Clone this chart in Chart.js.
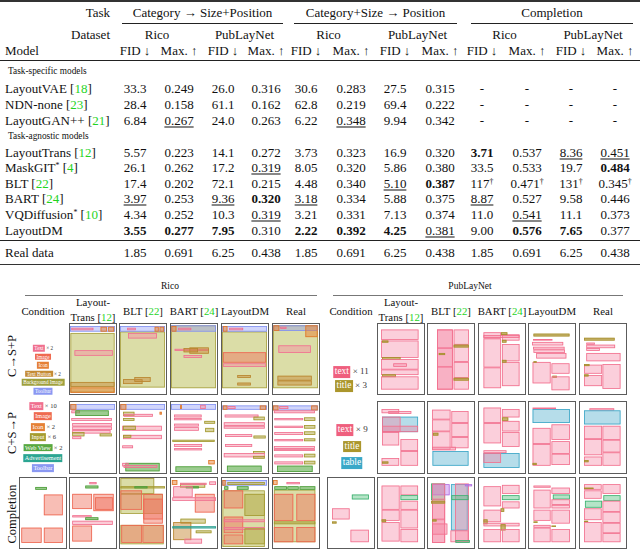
<!DOCTYPE html>
<html>
<head>
<meta charset="utf-8">
<script src="https://cdn.jsdelivr.net/npm/chart.js@4.4.0/dist/chart.umd.min.js"></script>
<style>
body { margin: 0; background: #fff; }
#page { position: relative; width: 640px; height: 550px; overflow: hidden; font-family: 'Liberation Serif', 'Times New Roman', serif; color: #111; }
.t { position: absolute; white-space: nowrap; line-height: 1; }
.rule { position: absolute; background: #222; }
.cite { color: #1fd41f; }
.u { text-decoration: underline; text-decoration-thickness: 1px; text-underline-offset: 2px; }
sup { font-size: 60%; line-height: 0; vertical-align: 0.45em; }
.frame { position: absolute; box-sizing: border-box; border: 1.5px solid #5c5c5c; background: #fff; overflow: hidden; }
.frame canvas { display: block; }
.tag { display: inline-block; color: #fff; line-height: 1.25; padding: 0 1.5px; }
</style>
</head>
<body>
<div id="page"></div>
<script>
// ---- table data ----
const models = ['LayoutVAE', 'NDN-none', 'LayoutGAN++', 'LayoutTrans', 'MaskGIT*', 'BLT', 'BART', 'VQDiffusion*', 'LayoutDM'];
const modelRefs = ['18', '23', '21', '12', '4', '22', '24', '10', ''];
// ** = bold, __ = underline
const catToSizePos = [
  ['33.3', '0.249', '26.0', '0.316'],
  ['28.4', '0.158', '61.1', '0.162'],
  ['6.84', '__0.267', '24.0', '0.263'],
  ['5.57', '0.223', '14.1', '0.272'],
  ['26.1', '0.262', '17.2', '__0.319'],
  ['17.4', '0.202', '72.1', '0.215'],
  ['__3.97', '0.253', '__9.36', '**0.320'],
  ['4.34', '0.252', '10.3', '__0.319'],
  ['**3.55', '**0.277', '**7.95', '0.310']
];
const catSizeToPos = [
  ['30.6', '0.283', '27.5', '0.315'],
  ['62.8', '0.219', '69.4', '0.222'],
  ['6.22', '__0.348', '9.94', '0.342'],
  ['3.73', '0.323', '16.9', '0.320'],
  ['8.05', '0.320', '5.86', '0.380'],
  ['4.48', '0.340', '__5.10', '**0.387'],
  ['__3.18', '0.334', '5.88', '0.375'],
  ['3.21', '0.331', '7.13', '0.374'],
  ['**2.22', '**0.392', '**4.25', '__0.381']
];
const completion = [
  ['-', '-', '-', '-'],
  ['-', '-', '-', '-'],
  ['-', '-', '-', '-'],
  ['**3.71', '0.537', '__8.36', '__0.451'],
  ['33.5', '0.533', '19.7', '**0.484'],
  ['117†', '0.471†', '131†', '0.345†'],
  ['__8.87', '0.527', '9.58', '0.446'],
  ['11.0', '__0.541', '11.1', '0.373'],
  ['9.00', '**0.576', '**7.65', '0.377']
];
const realData = ['1.85', '0.691', '6.25', '0.438'];
const taskNames = ['Category \u2192 Size+Position', 'Category+Size \u2192 Position', 'Completion'];
const datasetNames = ['Rico', 'PubLayNet'];

// ---- layout figure data ----
const figColumns = ['Layout-|Trans [12]', 'BLT [22]', 'BART [24]', 'LayoutDM', 'Real'];
const rowLabels = ['C\u2192S+P', 'C+S\u2192P', 'Completion'];
const ricoCondTags1 = [['Text', 'text', '× 2'], ['Image', 'image', ''], ['Icon', 'icon', ''], ['Text Button', 'button', '× 2'], ['Background Image', 'bg', ''], ['Toolbar', 'toolbar', '']];
const ricoCondTags2 = [['Text', 'text', '× 10'], ['Image', 'image', ''], ['Icon', 'icon', '× 2'], ['Input', 'input', '× 6'], ['Web View', 'web', '× 2'], ['Advertisement', 'ad', ''], ['Toolbar', 'toolbar', '']];
const pubCondTags1 = [['text', 'text', '× 11'], ['title', 'title', '× 3']];
const pubCondTags2 = [['text', 'text', '× 9'], ['title', 'title', ''], ['table', 'table', '']];

// boxes: [category, x0, y0, x1, y1] in page-relative units (0..1)
const ricoCSP = [
  [['toolbar',0,0.03,1,0.11],['text',0.03,0.055,0.52,0.09],['icon',0.68,0.04,0.82,0.11],['icon',0.85,0.04,0.98,0.11],['bg',0.01,0.13,0.99,0.99],['text',0.1,0.38,0.95,0.46],['button',0.01,0.84,0.99,0.91],['icon',0.01,0.92,0.99,1.0]],
  [['toolbar',0,0.03,1,0.11],['text',0.16,0.055,0.35,0.09],['icon',0.77,0.04,0.86,0.11],['icon',0.88,0.04,0.98,0.11],['bg',0,0.11,1,0.92],['text',0.18,0.13,0.82,0.21],['button',0.07,0.8,0.5,0.87],['button',0.32,0.77,0.68,0.84]],
  [['bg',0,0.02,1,0.93],['toolbar',0,0.02,1,0.11],['icon',0.01,0.03,0.12,0.11],['text',0.16,0.055,0.45,0.09],['text',0.08,0.36,0.84,0.39],['button',0.41,0.34,0.84,0.43],['button',0.28,0.35,0.6,0.41],['text',0.28,0.45,0.69,0.49]],
  [['toolbar',0,0.03,1,0.11],['icon',0.02,0.03,0.12,0.11],['text',0.16,0.055,0.47,0.09],['bg',0,0.11,1,0.93],['image',0.02,0.41,0.98,0.56],['text',0.02,0.57,0.98,0.62],['button',0.34,0.74,0.64,0.78],['button',0.34,0.85,0.64,0.89]],
  [['bg',0,0.02,1,0.93],['toolbar',0,0.02,1,0.1],['icon',0.01,0.02,0.14,0.1],['text',0.16,0.04,0.3,0.07],['icon',0.72,0.02,0.99,0.19],['text',0.12,0.31,0.84,0.42],['button',0.1,0.75,0.86,0.82],['button',0.1,0.82,0.86,0.89]]
];
const ricoCSP2 = [
  [['toolbar',0,0.03,1,0.11],['icon',0.01,0.03,0.14,0.11],['text',0.03,0.12,0.22,0.16],['web',0.12,0.12,0.86,0.2],['text',0.03,0.23,0.93,0.27],['text',0.05,0.3,0.93,0.35],['text',0.05,0.35,0.93,0.4],['text',0.05,0.4,0.9,0.45],['input',0.05,0.43,0.32,0.49],['input',0.66,0.45,0.93,0.49],['text',0.05,0.49,0.25,0.53]],
  [['toolbar',0,0.03,1,0.11],['icon',0.01,0.03,0.14,0.11],['input',0.07,0.14,0.32,0.2],['text',0.08,0.17,0.73,0.21],['input',0.07,0.23,0.32,0.27],['icon',0.88,0.14,0.93,0.18],['text',0.05,0.34,0.93,0.41],['input',0.07,0.34,0.35,0.4],['text',0.07,0.47,0.93,0.53],['input',0.07,0.47,0.25,0.51],['text',0.05,0.62,0.29,0.66],['web',0.12,0.87,0.88,0.99],['text',0.05,0.87,0.19,0.92],['text',0.08,0.9,0.83,0.94]],
  [['toolbar',0,0.03,1,0.11],['icon',0.2,0.04,0.24,0.1],['text',0.65,0.04,0.77,0.1],['text',0.07,0.18,0.68,0.22],['text',0.07,0.23,0.68,0.26],['input',0.74,0.27,0.98,0.31],['text',0.07,0.31,0.62,0.35],['text',0.07,0.36,0.62,0.41],['input',0.76,0.37,0.96,0.43],['input',0.03,0.54,0.97,0.57],['text',0.07,0.6,0.69,0.64],['text',0.07,0.66,0.69,0.69],['icon',0.83,0.83,0.97,0.89],['web',0.1,0.92,0.9,1.0]],
  [['toolbar',0,0.05,1,0.11],['icon',0.02,0.05,0.12,0.11],['icon',0.84,0.05,0.98,0.11],['text',0.12,0.06,0.3,0.1],['text',0.06,0.18,0.81,0.22],['input',0.7,0.21,0.95,0.26],['text',0.04,0.29,0.95,0.34],['text',0.04,0.34,0.95,0.38],['text',0.07,0.46,0.67,0.5],['input',0.7,0.48,0.97,0.52],['text',0.07,0.6,0.67,0.64],['input',0.69,0.7,0.95,0.74],['text',0.04,0.73,0.95,0.79],['input',0.69,0.77,0.95,0.81],['web',0.11,0.91,0.88,1.0]],
  [['toolbar',0,0.05,1,0.12],['icon',0,0.05,0.12,0.12],['icon',0.85,0.05,0.99,0.12],['text',0.14,0.06,0.34,0.1],['text',0.02,0.12,0.93,0.16],['text',0.03,0.23,0.67,0.26],['input',0.69,0.22,0.94,0.27],['text',0.03,0.34,0.67,0.37],['input',0.69,0.33,0.94,0.38],['text',0.03,0.43,0.67,0.47],['input',0.69,0.42,0.94,0.47],['text',0.03,0.53,0.67,0.56],['input',0.69,0.52,0.94,0.56],['text',0.02,0.63,0.93,0.67],['text',0.02,0.67,0.93,0.7],['text',0.03,0.75,0.67,0.79],['input',0.69,0.74,0.94,0.79],['text',0.03,0.85,0.67,0.89],['input',0.69,0.84,0.94,0.89],['web',0.09,0.91,0.88,1.0]]
];
const ricoComplCond = [['web',0.34,0.13,0.6,0.17],['image',0.53,0.24,0.95,0.54],['image',0.03,0.72,0.48,0.94],['image',0.53,0.72,0.95,0.94]];
const ricoCompl = [
  [['text',0.43,0.06,0.59,0.09],['web',0.34,0.11,0.63,0.15],['image',0.05,0.23,0.49,0.45],['image',0.52,0.23,0.97,0.48],['image',0.56,0.28,0.95,0.46],['text',0.05,0.54,0.48,0.57],['web',0.34,0.57,0.63,0.61],['text',0.05,0.62,0.95,0.68],['image',0.05,0.69,0.49,0.92]],
  [['bg',0.01,0.0,0.76,0.23],['bg',0.01,0.23,0.95,0.52],['bg',0.01,0.68,0.97,0.96],['input',0.01,0.12,1.0,0.15],['web',0.32,0.12,0.61,0.15],['image',0.01,0.18,0.49,0.46],['image',0.52,0.23,0.95,0.66],['image',0.52,0.3,0.95,0.6],['image',0.03,0.68,0.49,0.94],['image',0.5,0.68,0.97,0.94]],
  [['icon',0.02,0.03,0.14,0.1],['input',0.2,0.08,0.76,0.14],['text',0.2,0.07,0.79,0.1],['text',0.85,0.05,1.0,0.1],['web',0.33,0.12,0.62,0.15],['text',0.05,0.12,0.48,0.28],['image',0.53,0.23,0.97,0.5],['text',0.03,0.28,1.0,0.33],['input',0.21,0.59,0.77,0.66],['button',0.05,0.64,0.45,0.9],['ad',0.03,0.7,1.0,0.73],['input',0.55,0.76,0.9,0.8],['text',0.3,0.88,0.69,0.95]],
  [['bg',0.01,0.18,0.95,1.0],['toolbar',0,0.03,1,0.11],['input',0.12,0.06,0.95,0.1],['icon',0.01,0.03,0.08,0.11],['web',0.05,0.12,0.14,0.17],['web',0.33,0.12,0.59,0.17],['image',0.04,0.18,0.47,0.44],['input',0.5,0.23,0.95,0.55],['image',0.04,0.56,0.47,0.8],['text',0.04,0.6,0.95,0.64],['text',0.04,0.71,0.95,0.75],['input',0.5,0.73,0.95,0.96],['image',0.04,0.82,0.47,0.96]],
  [['bg',0.02,0.17,0.94,0.93],['icon',0.0,0.03,0.1,0.1],['text',0.3,0.06,0.6,0.09],['web',0.03,0.12,0.31,0.17],['web',0.32,0.12,0.57,0.17],['web',0.59,0.12,0.94,0.17],['image',0.02,0.23,0.45,0.62],['image',0.52,0.23,0.94,0.62],['input',0.02,0.63,0.94,0.67],['image',0.02,0.71,0.45,0.93],['image',0.52,0.71,0.94,0.93]]
];
const pubCSP = [
  [['text',0.07,0.08,0.9,0.23],['text',0.07,0.24,0.9,0.49],['title',0.09,0.24,0.23,0.27],['title',0.09,0.48,0.5,0.52],['text',0.07,0.51,0.9,0.66],['text',0.34,0.57,0.64,0.62],['text',0.07,0.66,0.9,0.74],['title',0.09,0.73,0.4,0.77],['text',0.07,0.76,0.9,0.95]],
  [['text',0.2,0.08,0.55,0.35],['text',0.2,0.35,0.55,0.62],['text',0.2,0.62,0.55,0.95],['text',0.2,0.08,0.55,0.95],['text',0.57,0.08,0.91,0.3],['text',0.57,0.3,0.91,0.55],['text',0.57,0.55,0.91,0.78],['text',0.57,0.78,0.91,0.95],['title',0.57,0.3,0.91,0.34],['title',0.24,0.42,0.38,0.45],['title',0.57,0.78,0.91,0.82]],
  [['text',0.1,0.12,0.49,0.21],['text',0.1,0.21,0.49,0.63],['text',0.1,0.63,0.49,0.93],['text',0.51,0.15,0.9,0.24],['text',0.51,0.29,0.9,0.54],['text',0.51,0.55,0.9,0.9],['text',0.1,0.16,0.9,0.2],['title',0.49,0.12,0.63,0.16],['title',0.51,0.23,0.61,0.27],['title',0.51,0.52,0.61,0.56]],
  [['title',0.1,0.14,0.9,0.18],['text',0.09,0.22,0.52,0.24],['text',0.07,0.26,0.76,0.31],['text',0.09,0.33,0.79,0.37],['text',0.1,0.37,0.8,0.42],['text',0.16,0.42,0.83,0.5],['text',0.08,0.55,0.48,0.86],['title',0.1,0.54,0.17,0.56],['text',0.5,0.57,0.9,0.72],['title',0.52,0.75,0.62,0.78],['text',0.5,0.76,0.9,0.96]],
  [['title',0.09,0.2,0.77,0.24],['text',0.14,0.27,0.33,0.3],['text',0.14,0.3,0.78,0.35],['text',0.14,0.35,0.44,0.39],['text',0.14,0.42,0.9,0.54],['text',0.09,0.59,0.49,0.72],['title',0.09,0.58,0.21,0.61],['text',0.09,0.74,0.49,0.9],['title',0.09,0.73,0.19,0.76],['text',0.5,0.58,0.9,0.94]]
];
const pubCSP2 = [
  [['text',0.08,0.1,0.47,0.16],['text',0.23,0.13,0.74,0.17],['table',0.09,0.21,0.89,0.43],['text',0.09,0.21,0.5,0.43],['text',0.09,0.34,0.89,0.43],['text',0.09,0.43,0.47,0.62],['text',0.5,0.53,0.89,0.7],['text',0.5,0.7,0.89,0.91],['text',0.08,0.8,0.47,0.91],['title',0.09,0.85,0.23,0.88]],
  [['text',0.09,0.11,0.5,0.25],['text',0.09,0.25,0.5,0.42],['text',0.09,0.42,0.5,0.68],['text',0.52,0.13,0.9,0.3],['text',0.52,0.3,0.9,0.5],['text',0.52,0.5,0.9,0.66],['title',0.11,0.44,0.23,0.48],['text',0.09,0.64,0.62,0.69],['table',0.1,0.7,0.9,0.91]],
  [['text',0.1,0.08,0.49,0.3],['text',0.1,0.3,0.49,0.59],['text',0.51,0.1,0.9,0.22],['title',0.51,0.22,0.65,0.27],['text',0.51,0.27,0.9,0.42],['text',0.51,0.43,0.9,0.64],['text',0.1,0.69,0.61,0.73],['table',0.1,0.73,0.9,0.94],['text',0.1,0.73,0.49,0.87]],
  [['text',0.08,0.08,0.6,0.1],['table',0.08,0.1,0.91,0.3],['text',0.08,0.37,0.48,0.6],['text',0.08,0.6,0.48,0.91],['title',0.08,0.87,0.17,0.9],['text',0.5,0.32,0.91,0.54],['text',0.5,0.56,0.91,0.74],['text',0.5,0.74,0.91,0.9]],
  [['text',0.21,0.09,0.76,0.12],['table',0.09,0.12,0.9,0.32],['text',0.09,0.34,0.49,0.53],['text',0.09,0.53,0.49,0.76],['text',0.09,0.78,0.49,0.91],['title',0.09,0.83,0.19,0.86],['text',0.5,0.34,0.9,0.54],['text',0.5,0.54,0.9,0.72],['text',0.5,0.72,0.9,0.91]]
];
const pubComplCond = [['list',0.53,0.24,0.91,0.31],['text',0.09,0.44,0.48,0.6],['title',0.09,0.63,0.19,0.66],['text',0.5,0.75,0.91,0.93]];
const pubCompl = [
  [['text',0.08,0.11,0.48,0.46],['text',0.08,0.46,0.48,0.62],['text',0.08,0.64,0.48,0.92],['text',0.5,0.11,0.89,0.25],['list',0.5,0.25,0.89,0.32],['text',0.5,0.33,0.89,0.46],['text',0.5,0.46,0.89,0.73],['text',0.5,0.74,0.89,0.93],['title',0.08,0.6,0.18,0.64]],
  [['list',0.07,0.08,0.38,0.32],['figure',0.09,0.09,0.48,0.25],['text',0.09,0.3,0.38,0.6],['text',0.09,0.6,0.38,0.94],['text',0.09,0.08,0.38,0.94],['title',0.07,0.33,0.38,0.37],['table',0.51,0.09,0.88,0.76],['text',0.6,0.08,0.91,0.93],['list',0.52,0.25,0.9,0.32],['figure',0.82,0.09,0.98,0.12],['text',0.09,0.66,0.43,0.82],['title',0.09,0.6,0.19,0.63],['text',0.5,0.76,0.9,0.93],['list',0.61,0.9,0.93,0.94]],
  [['text',0.1,0.12,0.49,0.41],['text',0.51,0.1,0.9,0.23],['list',0.51,0.25,0.9,0.32],['text',0.51,0.34,0.9,0.44],['title',0.48,0.44,0.56,0.49],['text',0.1,0.46,0.49,0.64],['title',0.1,0.6,0.19,0.67],['text',0.1,0.65,0.9,0.7],['title',0.48,0.67,0.59,0.76],['text',0.1,0.74,0.49,0.93],['text',0.51,0.74,0.9,0.93]],
  [['text',0.1,0.11,0.48,0.14],['text',0.1,0.17,0.48,0.44],['text',0.5,0.14,0.91,0.23],['list',0.53,0.24,0.91,0.31],['text',0.5,0.31,0.91,0.39],['text',0.5,0.39,0.91,0.44],['text',0.1,0.46,0.48,0.62],['title',0.1,0.63,0.19,0.65],['text',0.5,0.46,0.91,0.66],['text',0.1,0.68,0.48,0.72],['text',0.1,0.72,0.48,0.93],['text',0.5,0.74,0.91,0.93],['title',0.5,0.69,0.6,0.71]],
  [['text',0.09,0.09,0.48,0.17],['title',0.09,0.14,0.3,0.16],['text',0.09,0.18,0.48,0.3],['list',0.11,0.33,0.49,0.43],['text',0.09,0.44,0.48,0.61],['title',0.09,0.62,0.18,0.64],['text',0.09,0.64,0.48,0.93],['text',0.5,0.09,0.9,0.23],['list',0.52,0.25,0.9,0.33],['text',0.5,0.33,0.9,0.49],['text',0.5,0.49,0.9,0.65],['text',0.5,0.65,0.9,0.8],['text',0.5,0.8,0.9,0.93]]
];

// colours: [fill, stroke, tag]
const ricoColors = {
  text: ['rgba(246,140,165,0.45)', '#f0708f', '#f0708f'],
  image: ['rgba(240,110,90,0.45)', '#ee6650', '#ef6a50'],
  icon: ['rgba(232,128,50,0.5)', '#e07828', '#e58036'],
  button: ['rgba(200,140,60,0.5)', '#b8862e', '#c48a34'],
  bg: ['rgba(175,180,60,0.45)', '#a8a040', '#9fa03c'],
  toolbar: ['rgba(140,150,245,0.4)', '#8090f0', '#8a98f2'],
  input: ['rgba(170,160,50,0.45)', '#a49a30', '#a69c30'],
  web: ['rgba(90,170,70,0.6)', '#4e9e3a', '#58a840'],
  ad: ['rgba(40,160,150,0.5)', '#28a090', '#2ca592']
};
const pubColors = {
  text: ['rgba(245,130,160,0.38)', '#f2708e', '#ef5f7e'],
  title: ['rgba(175,150,50,0.7)', '#a89030', '#ab962c'],
  table: ['rgba(80,175,205,0.42)', '#3aa6c6', '#3aa8c8'],
  list: ['rgba(90,195,130,0.45)', '#3cb070', '#3cb070'],
  figure: ['rgba(190,120,240,0.45)', '#b070e0', '#b070e0']
};

const page = document.getElementById('page');

function put(html, x, y, size, align, extra) {
  const d = document.createElement('div');
  d.className = 't';
  d.innerHTML = html;
  d.style.left = x + 'px';
  d.style.top = y + 'px';
  d.style.fontSize = size + 'px';
  const tx = align === 'c' ? '-50%' : align === 'r' ? '-100%' : '0';
  d.style.transform = 'translate(' + tx + ',-50%)' + (extra || '');
  page.appendChild(d);
  return d;
}
function rule(x0, x1, y, h, color) {
  const d = document.createElement('div');
  d.className = 'rule';
  d.style.left = x0 + 'px';
  d.style.width = (x1 - x0) + 'px';
  d.style.top = y + 'px';
  d.style.height = h + 'px';
  if (color) d.style.background = color;
  page.appendChild(d);
}
function cite(s) {
  return s.replace(/\[(\d+)\]/g, '[<span class="cite">$1</span>]');
}
function cell(v) {
  let cls = '';
  if (v.startsWith('**')) { v = v.slice(2); cls = 'font-weight:bold;'; }
  let html = v.replace('†', '<sup>†</sup>');
  if (v.startsWith('__')) html = '<span class="u">' + html.slice(2) + '</span>';
  return cls ? '<span style="' + cls + '">' + html + '</span>' : html;
}

// ---- table ----
const colX = [135, 179, 223, 266, 306, 351, 395, 440, 482, 527, 571, 615];
const groupRule = [[122, 283], [294, 457], [471, 633]];
const rowY = [88, 104, 120, 152, 167, 183, 198, 214, 230];
const FS = 13;

rule(0, 640, 0, 2, '#333');
put('Task', 110, 12, FS, 'r');
taskNames.forEach((n, g) => {
  put(n, (groupRule[g][0] + groupRule[g][1]) / 2, 12, FS, 'c');
  rule(groupRule[g][0], groupRule[g][1], 23, 1);
});
put('Dataset', 110, 34, FS, 'r');
put('Model', 5, 50, FS, 'l');
for (let g = 0; g < 3; g++) {
  datasetNames.forEach((n, k) => {
    const i = g * 4 + k * 2;
    put(n, (colX[i] + colX[i + 1]) / 2, 34, FS, 'c');
    put('FID \u2193', colX[i], 50, FS, 'c');
    put('Max. \u2191', colX[i + 1], 50, FS, 'c');
  });
}
rule(0, 640, 60, 1);
put('Task-specific models', 8, 72, 9.3, 'l');
put('Task-agnostic models', 8, 137, 9.3, 'l');
models.forEach((m, r) => {
  const name = m.replace('*', '<sup>*</sup>') + (modelRefs[r] ? ' [<span class="cite">' + modelRefs[r] + '</span>]' : '');
  put(name, 5, rowY[r], FS, 'l');
  const vals = catToSizePos[r].concat(catSizeToPos[r], completion[r]);
  vals.forEach((v, c) => put(cell(v), colX[c], rowY[r], FS, 'c'));
});
rule(0, 640, 240, 1);
put('Real data', 5, 252, FS, 'l');
for (let g = 0; g < 3; g++) realData.forEach((v, k) => put(v, colX[g * 4 + k], 252, FS, 'c'));
rule(0, 640, 263.5, 1.6, '#333');

// ---- figure ----
put('Rico', 170, 287, 9.5, 'c');
put('PubLayNet', 470, 287, 9.5, 'c');
rule(25, 317, 294.5, 1.5, '#777');
rule(333, 623, 294.5, 1.5, '#777');

const ricoX = [69, 119, 170, 221, 272];
const pubX = [377, 427, 478, 528, 579];
const rowTop = [323, 401, 477];
const rowH = [72, 73, 72];
const TW = 48;

function headers(condX, xs) {
  put('Condition', condX, 311, 10.8, 'c');
  figColumns.forEach((h, i) => {
    const cx = xs[i] + TW / 2;
    const parts = h.split('|');
    if (parts.length === 2) {
      put(parts[0], cx, 302, 10.8, 'c');
      put(cite(parts[1]), cx, 317, 10.8, 'c');
    } else {
      put(cite(h), cx, 311, 10.8, 'c');
    }
  });
}
headers(43, ricoX);
headers(351, pubX);

put(rowLabels[0], 12, 356, 12.5, 'c', ' rotate(-90deg)');
put(rowLabels[1], 12, 433, 12.5, 'c', ' rotate(-90deg)');
put(rowLabels[2], 12, 514, 12.5, 'c', ' rotate(-90deg)');

function tags(list, colors, cx, y0, step, size, multSize) {
  list.forEach((t, i) => {
    const html = '<span class="tag" style="background:' + colors[t[1]][2] + '">' + t[0] + '</span>' +
      (t[2] ? '<span style="font-size:' + multSize + 'px;color:#333"> ' + t[2] + '</span>' : '');
    put(html, cx, y0 + i * step, size, 'c');
  });
}
tags(ricoCondTags1, ricoColors, 43, 348, 8.6, 5.2, 5.2);
tags(ricoCondTags2, ricoColors, 43, 406, 10.4, 6.2, 6.5);
tags(pubCondTags1, pubColors, 351, 372, 14, 9.5, 9);
tags(pubCondTags2, pubColors, 352, 430, 16.5, 9.5, 9);

// draws each layout element through the chart's x/y scales
function boxPlugin(colors) {
  return {
    id: 'layoutBoxes',
    afterDatasetsDraw(chart) {
      const ctx = chart.ctx;
      const xs = chart.scales.x, ys = chart.scales.y;
      ctx.save();
      chart.data.datasets[0].data.forEach(b => {
        const x0 = xs.getPixelForValue(b.x), x1 = xs.getPixelForValue(b.x2);
        const y0 = ys.getPixelForValue(b.y), y1 = ys.getPixelForValue(b.y2);
        const c = colors[b.cat];
        ctx.fillStyle = c[0];
        ctx.fillRect(x0, y0, x1 - x0, y1 - y0);
        ctx.strokeStyle = c[1];
        ctx.lineWidth = 0.8;
        ctx.strokeRect(x0 + 0.4, y0 + 0.4, x1 - x0 - 0.8, y1 - y0 - 0.8);
      });
      ctx.restore();
    }
  };
}

function thumb(x, y, h, boxes, colors) {
  const f = document.createElement('div');
  f.className = 'frame';
  f.style.left = x + 'px';
  f.style.top = y + 'px';
  f.style.width = TW + 'px';
  f.style.height = h + 'px';
  const cv = document.createElement('canvas');
  const w = TW - 3, hh = h - 3;
  cv.width = w; cv.height = hh;
  cv.style.width = w + 'px'; cv.style.height = hh + 'px';
  f.appendChild(cv);
  page.appendChild(f);
  // background elements first
  const sorted = boxes.filter(b => b[0] === 'bg').concat(boxes.filter(b => b[0] !== 'bg'));
  new Chart(cv, {
    type: 'scatter',
    data: {
      datasets: [{
        data: sorted.map(b => ({ cat: b[0], x: b[1], y: b[2], x2: b[3], y2: b[4] })),
        pointRadius: 0
      }]
    },
    options: {
      responsive: false,
      animation: false,
      events: [],
      layout: { padding: 0 },
      scales: {
        x: { display: false, min: 0, max: 1 },
        y: { display: false, min: 0, max: 1, reverse: true }
      },
      plugins: { legend: { display: false }, tooltip: { enabled: false } }
    },
    plugins: [boxPlugin(colors)]
  });
}

[ricoCSP, ricoCSP2, ricoCompl].forEach((row, r) => row.forEach((boxes, i) => thumb(ricoX[i], rowTop[r], rowH[r], boxes, ricoColors)));
[pubCSP, pubCSP2, pubCompl].forEach((row, r) => row.forEach((boxes, i) => thumb(pubX[i], rowTop[r], rowH[r], boxes, pubColors)));
thumb(19, rowTop[2], rowH[2], ricoComplCond, ricoColors);
thumb(327, rowTop[2], rowH[2], pubComplCond, pubColors);
</script>
</body>
</html>
